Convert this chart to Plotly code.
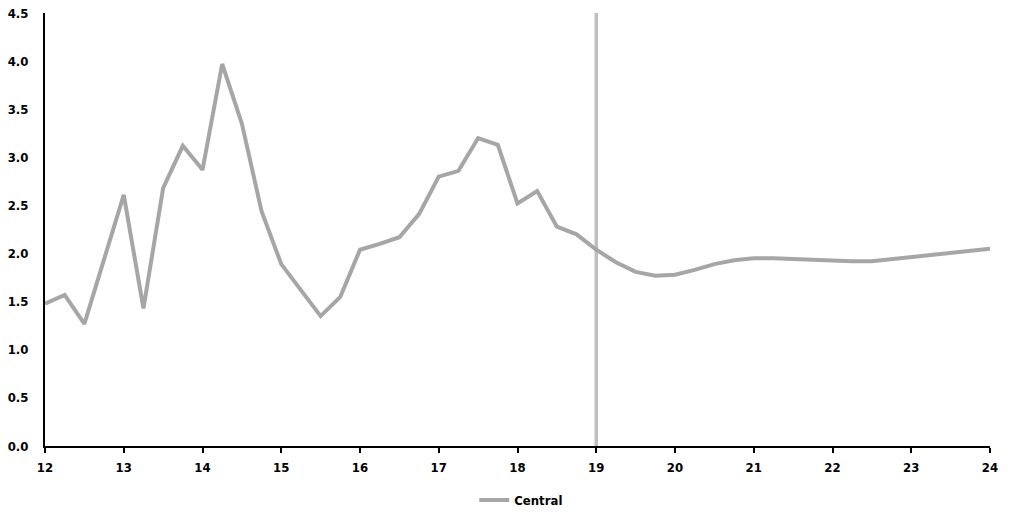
import plotly.graph_objects as go

# Quarterly x positions (years)
x_vals = [12 + 0.25 * i for i in range(49)]
central = [
    1.48, 1.57, 1.27, 1.93, 2.61, 1.43, 2.68, 3.12, 2.87, 3.97, 3.35, 2.44,
    1.89, 1.62, 1.35, 1.55, 2.04, 2.10, 2.17, 2.41, 2.80, 2.86, 3.20, 3.13,
    2.52, 2.65, 2.28, 2.20, 2.04, 1.91, 1.81, 1.77, 1.78, 1.83, 1.89, 1.93,
    1.95, 1.95, 1.94, 1.93, 1.92, 1.92, 1.92, 1.94, 1.96, 1.98, 2.00, 2.03,
    2.05,
]
forecast_start = 19
x_ticks = list(range(12, 25))
y_ticks = [0.0, 0.5, 1.0, 1.5, 2.0, 2.5, 3.0, 3.5, 4.0, 4.5]

FONT_FAMILY = "DejaVu Sans Condensed, DejaVu Sans"

fig = go.Figure()
fig.add_trace(go.Scatter(
    x=x_vals, y=central, mode="lines", name="<b>Central</b>",
    line=dict(color="#A6A6A6", width=4),
))
fig.add_shape(type="line", xref="x", yref="y",
              x0=forecast_start, x1=forecast_start, y0=0, y1=4.5,
              line=dict(color="#BFBFBF", width=3.5), layer="below")

fig.update_layout(
    width=1036, height=514,
    margin=dict(l=45, r=46, t=13, b=68),
    paper_bgcolor="white", plot_bgcolor="white",
    font=dict(family=FONT_FAMILY, size=13, color="#000000"),
    showlegend=True,
    legend=dict(orientation="h", x=0.504, xanchor="center",
                yref="container", y=1 - 500 / 514, yanchor="middle",
                font=dict(family=FONT_FAMILY, size=13, color="#000"),
                itemwidth=30),
    xaxis=dict(range=[12, 24], tickvals=x_ticks, ticktext=[f"<b>{v}</b>" for v in x_ticks],
               showgrid=False, zeroline=False, showline=True, linecolor="black", linewidth=2,
               ticks="outside", ticklen=5, tickwidth=2, tickcolor="black", automargin=False,
               ticklabelstandoff=3),
    yaxis=dict(range=[0, 4.5], tickvals=y_ticks, ticktext=[f"<b>{v:.1f}</b>" for v in y_ticks],
               showgrid=False, zeroline=False, showline=True, linecolor="black", linewidth=2,
               ticks="", ticklen=0, automargin=False, ticklabelstandoff=12),
)
fig.write_html("out.html", config={"displayModeBar": False},
               post_script="document.body.style.margin='0';")
